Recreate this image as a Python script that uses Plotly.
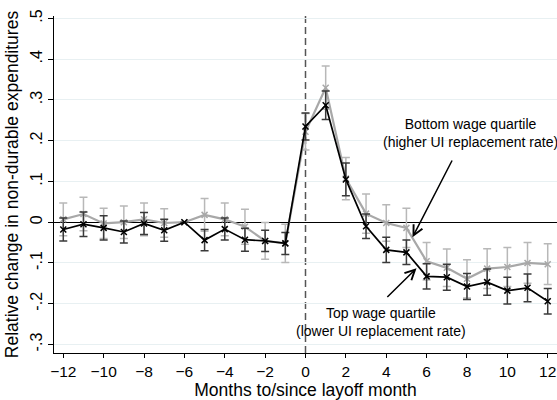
import plotly.graph_objects as go

months = list(range(-12, 13))

bottom_vals = [0.007, 0.020, -0.003, 0.000, 0.007, -0.002, 0.000, 0.018, 0.007, -0.011, -0.046, -0.052,
               0.222, 0.330, 0.107, 0.021, -0.002, -0.014, -0.096, -0.112, -0.139, -0.114, -0.110, -0.100, -0.103]
bottom_err = [0.040, 0.041, 0.037, 0.040, 0.040, 0.035, 0.0, 0.040, 0.040, 0.043, 0.045, 0.047,
              0.045, 0.053, 0.052, 0.048, 0.045, 0.048, 0.046, 0.046, 0.047, 0.049, 0.048, 0.050, 0.050]

top_vals = [-0.018, -0.005, -0.014, -0.024, -0.003, -0.020, 0.000, -0.044, -0.017, -0.043, -0.046, -0.052,
            0.235, 0.287, 0.105, -0.010, -0.068, -0.074, -0.133, -0.135, -0.158, -0.147, -0.168, -0.161, -0.194]
top_err = [0.028, 0.030, 0.030, 0.027, 0.027, 0.027, 0.0, 0.026, 0.027, 0.028, 0.026, 0.027,
           0.033, 0.035, 0.040, 0.030, 0.031, 0.030, 0.031, 0.032, 0.032, 0.032, 0.033, 0.034, 0.031]

x_ticks = list(range(-12, 13, 2))
y_ticks = [-0.3, -0.2, -0.1, 0, 0.1, 0.2, 0.3, 0.4, 0.5]
y_tick_labels = ["-.3", "-.2", "-.1", "0", ".1", ".2", ".3", ".4", ".5"]

FONT = "Liberation Sans, Arial, sans-serif"
GRAY = "#a8a8a8"

fig = go.Figure()

fig.add_trace(go.Scatter(
    x=months, y=bottom_vals, mode="lines+markers",
    line=dict(color=GRAY, width=2.2),
    marker=dict(symbol="x-thin", size=6, line=dict(color=GRAY, width=1.5)),
    error_y=dict(type="data", array=bottom_err, color="#b8b8b8", thickness=1.5, width=4),
    showlegend=False,
))
fig.add_trace(go.Scatter(
    x=months, y=top_vals, mode="lines+markers",
    line=dict(color="black", width=1.7),
    marker=dict(symbol="x-thin", size=6, line=dict(color="black", width=1.5)),
    error_y=dict(type="data", array=top_err, color="#3a3a3a", thickness=1.5, width=4),
    showlegend=False,
))

# vertical dashed line at layoff month
fig.add_shape(type="line", xref="x", yref="paper", x0=0, x1=0, y0=0, y1=1,
              line=dict(color="#555555", width=1.5, dash="7px,4px"), layer="below")

# annotations
fig.add_annotation(x=8.15, y=0.218, xref="x", yref="y",
                   text="Bottom wage quartile<br>(higher UI replacement rate)",
                   showarrow=False, yanchor="middle", align="center",
                   font=dict(family=FONT, size=14, color="black"))
fig.add_annotation(x=5.3, y=-0.037, ax=7.3, ay=0.155, xref="x", yref="y", axref="x", ayref="y",
                   text="", showarrow=True, arrowhead=5, arrowsize=1.3, arrowwidth=1.5, arrowcolor="black")
fig.add_annotation(x=3.75, y=-0.245, xref="x", yref="y",
                   text="Top wage quartile<br>(lower UI replacement rate)",
                   showarrow=False, yanchor="middle", align="center",
                   font=dict(family=FONT, size=14, color="black"))
fig.add_annotation(x=5.5, y=-0.113, ax=3.98, ay=-0.187, xref="x", yref="y", axref="x", ayref="y",
                   text="", showarrow=True, arrowhead=5, arrowsize=1.3, arrowwidth=1.5, arrowcolor="black")

fig.update_layout(
    width=557, height=400,
    margin=dict(l=54, r=0, t=16, b=47),
    paper_bgcolor="white", plot_bgcolor="white",
    font=dict(family=FONT, color="black"),
    xaxis=dict(
        range=[-12.46, 12.46], tickmode="array", tickvals=x_ticks,
        ticks="outside", ticklen=4, tickcolor="black",
        showline=True, linecolor="black", linewidth=1, showgrid=False, zeroline=False,
        tickfont=dict(size=15.5, family=FONT),
        title=dict(text="Months to/since layoff month", font=dict(size=17.5, family=FONT), standoff=2),
    ),
    yaxis=dict(
        range=[-0.321, 0.506], tickmode="array", tickvals=y_ticks, ticktext=y_tick_labels,
        tickangle=-90, ticks="outside", ticklen=5, tickcolor="black",
        showline=True, linecolor="black", linewidth=1,
        showgrid=True, gridcolor="#e8f0f2", gridwidth=1,
        zeroline=True, zerolinecolor="black", zerolinewidth=1.2,
        tickfont=dict(size=16, family=FONT),
        title=dict(text="Relative change in non-durable expenditures", font=dict(size=17.5, family=FONT), standoff=4),
    ),
)

fig.write_html("out.html", config={"displayModeBar": False},
               post_script="document.body.style.margin='0px';document.body.style.overflow='hidden';")
